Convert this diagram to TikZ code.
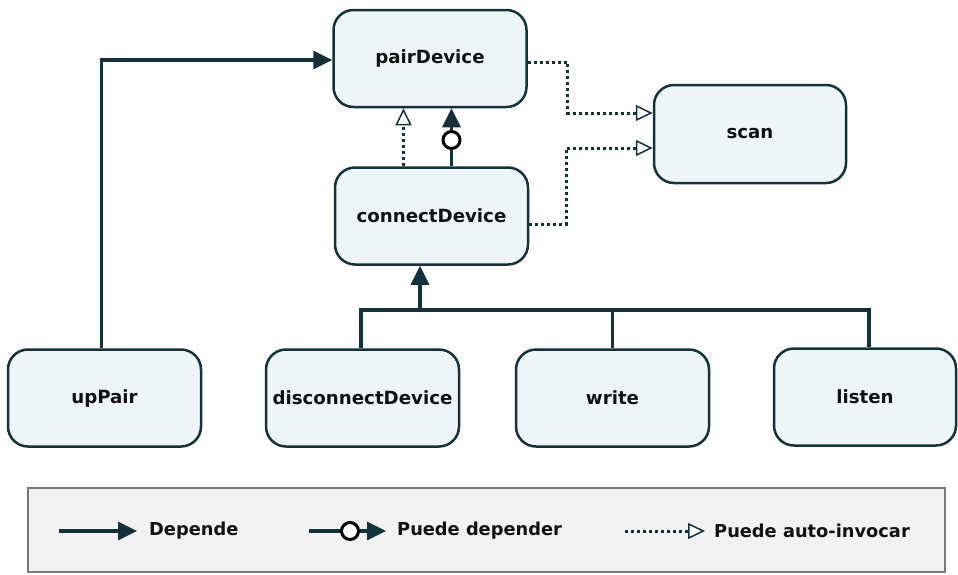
\documentclass[tikz,border=0pt]{standalone}
\usepackage{fontspec}
\setmainfont{DejaVu Sans}
\usetikzlibrary{arrows.meta,calc}
\definecolor{ink}{HTML}{14323C}
\definecolor{boxfill}{HTML}{EEF5F9}
\definecolor{legfill}{HTML}{F2F2F2}
\definecolor{legdraw}{HTML}{7A7A7A}
\definecolor{txt}{HTML}{111111}
\begin{document}
\begin{tikzpicture}[x=1pt,y=-1pt,
  fn/.style={draw=ink, line width=2.5pt, fill=boxfill, rounded corners=20pt,
    minimum width=193pt, minimum height=97pt, inner sep=0pt,
    font=\bfseries\fontsize{18.2}{21}\selectfont, text=txt},
  link/.style={draw=ink, line width=3.3pt},
  dep/.style={link, -{Triangle[length=19pt,width=18pt]}},
  selfcall/.style={draw=ink, line width=3pt, dash pattern=on 3pt off 3pt,
    -{Triangle[length=17pt,width=16pt,fill=white,line width=1.5pt]}},
  ring/.style={circle, draw=black, line width=3pt, fill=white, minimum size=17pt, inner sep=0pt},
  legtext/.style={anchor=west, inner sep=0pt, text=txt, font=\bfseries\fontsize{17.8}{20}\selectfont}
]
\useasboundingbox (0,0) rectangle (958,574);

\node[fn] (pairDevice) at (430,58.5) {pairDevice};
\node[fn, minimum width=192pt, minimum height=98pt] (scan) at (750,134) {scan};
\node[fn] (connectDevice) at (431.5,216) {connectDevice};
\node[fn] (upPair) at (104.5,398) {upPair};
\node[fn] (disconnectDevice) at (362.5,398) {disconnectDevice};
\node[fn] (write) at (612.5,398) {write};
\node[fn, minimum width=182pt] (listen) at (865,397) {listen};

% upPair -> pairDevice
\draw[dep] ([xshift=-3pt]upPair.north) |- ([yshift=-1.5pt]pairDevice.west);

% connectDevice -> pairDevice
\draw[selfcall] ([xshift=-28pt]connectDevice.north) -- ([xshift=-28pt]connectDevice.north |- pairDevice.south);
\draw[dep] ([xshift=20pt]connectDevice.north) -- ([xshift=20pt]connectDevice.north |- pairDevice.south);
\node[ring] (ring1) at (451.5,140) {};

% -> scan
\draw[selfcall] ([yshift=-3.5pt]pairDevice.east) -- ++(40,0) |- ([yshift=21pt]scan.west);
\draw[selfcall] ([yshift=-8pt]connectDevice.east) -- ++(37,0) |- ([yshift=-14pt]scan.west);

% bus
\coordinate (bus) at (420,310);
\draw[dep] (bus) -- (bus |- connectDevice.south);
\draw[link] ([xshift=-1.5pt]disconnectDevice.north) -- ([xshift=-1.5pt]disconnectDevice.north |- bus)
  -- ([xshift=4pt]listen.north |- bus) -- ([xshift=4pt]listen.north);
\draw[link] (write.north) -- (write.north |- bus);

% legend
\node[draw=legdraw, fill=legfill, line width=2.8pt, minimum width=917pt, minimum height=84pt, inner sep=0pt] (legend) at (486.5,530) {};
\coordinate (l1a) at (59,531);
\coordinate (l1b) at (137,531);
\draw[dep] (l1a) -- (l1b);
\node[legtext] (t1) at (149,531) {Depende};
\coordinate (l2a) at (309,531);
\coordinate (l2b) at (386,531);
\draw[dep] (l2a) -- (l2b);
\node[ring] (ring2) at (350,531) {};
\node[legtext] (t2) at (397,531) {Puede depender};
\coordinate (l3a) at (625,531);
\coordinate (l3b) at (705,531);
\draw[selfcall] (l3a) -- (l3b);
\node[legtext] (t3) at (714,531) {Puede auto-invocar};
\end{tikzpicture}
\end{document}
